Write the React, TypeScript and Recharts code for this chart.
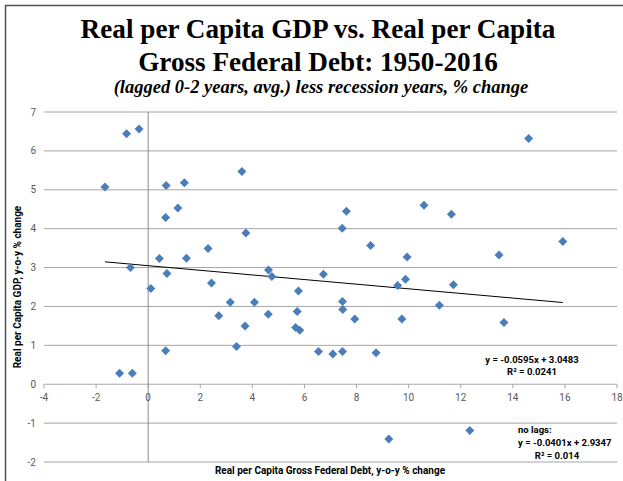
import React from "react";
import {
  ScatterChart,
  Scatter,
  XAxis,
  YAxis,
  CartesianGrid,
  ReferenceLine,
} from "recharts";

// debt growth (x) and gdp growth (y)
const DEBT_CHANGE = [
  -1.66, -0.83, -0.35, 0.69, 1.39, 1.14, 0.67, 3.6, 3.75, 2.3, 0.43, 1.47, -0.68, 0.72,
  2.43, 4.62, 4.75, 5.77, 0.1, 3.15, 4.08, 2.71, 3.72, 4.61, 5.72, 5.66, 5.82, 3.39,
  0.67, -1.1, -0.61, 6.54, 14.61, 7.61, 7.45, 10.59, 11.64, 8.54, 9.94, 13.47, 15.92,
  6.73, 9.58, 9.88, 11.72, 7.46, 7.47, 7.93, 9.74, 11.18, 13.66, 7.09, 7.46, 8.75,
  9.24, 12.35,
];
const GDP_CHANGE = [
  5.07, 6.44, 6.56, 5.11, 5.18, 4.53, 4.29, 5.47, 3.89, 3.49, 3.23, 3.24, 3.0, 2.85,
  2.6, 2.94, 2.77, 2.4, 2.46, 2.11, 2.11, 1.76, 1.5, 1.8, 1.87, 1.46, 1.39, 0.97,
  0.86, 0.28, 0.28, 0.84, 6.32, 4.45, 4.01, 4.6, 4.37, 3.57, 3.27, 3.32, 3.67,
  2.83, 2.54, 2.7, 2.56, 2.13, 1.92, 1.68, 1.68, 2.03, 1.59, 0.78, 0.84, 0.81,
  -1.41, -1.19,
];

const X_TICKS = [-4, -2, 0, 2, 4, 6, 8, 10, 12, 14, 16, 18];
const Y_TICKS = [-2, -1, 0, 1, 2, 3, 4, 5, 6, 7];

// trendline from the equation printed on the chart
const SLOPE = -0.0595;
const INTERCEPT = 3.0483;

const points = DEBT_CHANGE.map((x, i) => ({ x, y: GDP_CHANGE[i] }));
const xMin = Math.min(...DEBT_CHANGE);
const xMax = Math.max(...DEBT_CHANGE);
const trend = [
  { x: xMin, y: SLOPE * xMin + INTERCEPT },
  { x: xMax, y: SLOPE * xMax + INTERCEPT },
];

const W = 623;
const H = 481;
const PLOT_TOP = 112;
const PLOT_BOTTOM = 462;
const PLOT_H = PLOT_BOTTOM - PLOT_TOP;
const SANS = "Roboto, 'Liberation Sans', sans-serif";
const SERIF = "'Liberation Serif', 'Times New Roman', serif";

// x labels sit on the y=0 line, not at the bottom of the plot
// eslint-disable-next-line @typescript-eslint/no-explicit-any
const XTick = ({ x, y, payload }: any) => {
  const zeroY = y - (PLOT_H * 2) / 9;
  return (
    <g>
      <line x1={x} x2={x} y1={zeroY} y2={zeroY + 4} stroke="#A6A6A6" />
      <text x={x} y={zeroY + 17} textAnchor="middle" fontSize={10} fill="#595959" fontFamily={SANS}>
        {payload.value}
      </text>
    </g>
  );
};

// eslint-disable-next-line @typescript-eslint/no-explicit-any
const Diamond = ({ cx, cy }: any) => (
  <polygon
    points={`${cx},${cy - 4.5} ${cx + 4.5},${cy} ${cx},${cy + 4.5} ${cx - 4.5},${cy}`}
    fill="#4A7EBB"
  />
);

const App: React.FC = () => {
  return (
    <div style={{ position: "absolute", left: 0, top: 0, width: W, height: H, background: "#fff" }}>
      <ScatterChart width={W} height={H} margin={{ top: PLOT_TOP, right: 6, left: 8, bottom: 0 }}>
        <CartesianGrid vertical={false} stroke="#A6A6A6" />
        <XAxis
          type="number"
          dataKey="x"
          domain={[-4, 18]}
          ticks={X_TICKS}
          axisLine={false}
          tickLine={false}
          tickSize={0}
          tickMargin={0}
          height={19}
          tick={<XTick />}
          interval={0}
        />
        <YAxis
          type="number"
          dataKey="y"
          domain={[-2, 7]}
          ticks={Y_TICKS}
          axisLine={false}
          tickLine={false}
          width={36}
          interval={0}
          tick={{ fontSize: 10, fill: "#595959", fontFamily: SANS }}
        />
        <ReferenceLine x={0} stroke="#8C8C8C" />
        <ReferenceLine segment={trend} stroke="#000" strokeWidth={1} />
        <Scatter data={points} shape={<Diamond />} isAnimationActive={false} />
      </ScatterChart>
      <svg
        width={W}
        height={H}
        style={{ position: "absolute", left: 0, top: 0, pointerEvents: "none" }}
      >
        <rect x={5.5} y={5.5} width={640} height={500} fill="none" stroke="#505050" strokeWidth={1.5} />
        <text x={318} y={38} textAnchor="middle" fontFamily={SERIF} fontWeight="bold" fontSize={27.2}>
          Real per Capita GDP vs. Real per Capita
        </text>
        <text x={318} y={71} textAnchor="middle" fontFamily={SERIF} fontWeight="bold" fontSize={27.2}>
          Gross Federal Debt: 1950-2016
        </text>
        <text
          x={321}
          y={93}
          textAnchor="middle"
          fontFamily={SERIF}
          fontWeight="bold"
          fontStyle="italic"
          fontSize={18.5}
        >
          (lagged 0-2 years, avg.) less recession years, % change
        </text>
        <text
          transform="translate(21,287) rotate(-90)"
          textAnchor="middle"
          fontFamily={SANS}
          fontWeight="bold"
          fontSize={10}
        >
          Real per Capita GDP,  y-o-y % change
        </text>
        <text x={330} y={474} textAnchor="middle" fontFamily={SANS} fontWeight="bold" fontSize={10}>
          Real per Capita Gross Federal Debt, y-o-y % change
        </text>
        <g fontFamily={SANS} fontWeight="bold" fontSize={9.5}>
          <text x={532} y={362.5} textAnchor="middle">y = -0.0595x + 3.0483</text>
          <text x={532} y={375} textAnchor="middle">
            R² = 0.0241
          </text>
          <text x={518} y={433}>no lags:</text>
          <text x={518} y={445.5}>y = -0.0401x + 2.9347</text>
          <text x={557} y={458.5} textAnchor="middle">
            R² = 0.014
          </text>
        </g>
      </svg>
    </div>
  );
};

export default App;
